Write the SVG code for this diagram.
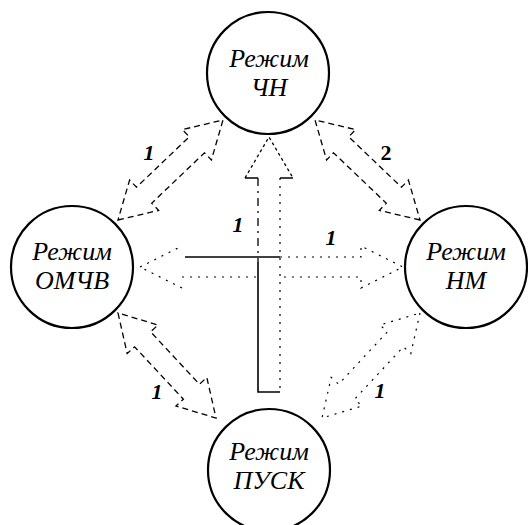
<svg xmlns="http://www.w3.org/2000/svg" width="528" height="525" viewBox="0 0 528 525">
<style>
.node{fill:#fff;stroke:#000;stroke-width:2.2}
.t{font-family:"Liberation Serif","Times New Roman",serif;font-style:italic;font-size:26px;text-anchor:middle;fill:#000}
.lbl{font-family:"Liberation Serif","Times New Roman",serif;font-style:italic;font-weight:bold;font-size:22px;text-anchor:middle;fill:#000}
.dash{fill:none;stroke:#000;stroke-width:1.3;stroke-dasharray:6 4}
.dot{fill:none;stroke:#000;stroke-width:1.2;stroke-dasharray:2 6}
.solid{fill:none;stroke:#000;stroke-width:1.6}
</style>
<rect width="528" height="525" fill="#fff"/>
<g id="connectors">
  <path class="dash" d="M118,313 L127.2,353.6 L134.6,346.8 L183.4,399.2 L176,406 L216,418 L206.8,377.4 L199.4,384.2 L150.6,331.8 L158,325 Z"/>
  <path class="dash" d="M118,220 L158.6,210.4 L151.7,203.2 L204.5,152.8 L211.4,160 L223,120 L182.4,129.6 L189.3,136.8 L136.5,187.2 L129.6,180 Z"/>
  <path class="dash" d="M420,220 L379.4,210.4 L386.3,203.2 L333.5,152.8 L326.6,160 L315,120 L355.6,129.6 L348.7,136.8 L401.5,187.2 L408.4,180 Z"/>
  <path class="dot" d="M420,313 L410.8,353.6 L403.4,346.8 L354.6,399.2 L362,406 L322,418 L331.2,377.4 L338.6,384.2 L387.4,331.8 L380,325 Z"/>
  <path class="dot" d="M140,267 L182,246 M182,288 L140,267 M182,277 H258 M280,257 H361 V246 L403,267 L361,288 V277 H280"/>
  <path class="solid" d="M185,257 H280"/>
  <path class="dash" d="M245,178 L269,137 L293,178" style="stroke-dasharray:3 3"/>
  <path class="solid" d="M245,178 H258 M280,178 H293"/>
  <path class="dash" d="M258,178 V262" style="stroke-dasharray:8 5 2 5"/>
  <path class="solid" d="M258,262 V392 H280"/>
  <path class="dot" d="M280,178 V392"/>
</g>
<g id="labels">
  <text class="lbl" x="149" y="160">1</text>
  <text class="lbl" x="386" y="160" style="font-style:normal">2</text>
  <text class="lbl" x="238" y="232">1</text>
  <text class="lbl" x="331" y="245">1</text>
  <text class="lbl" x="157" y="399">1</text>
  <text class="lbl" x="380" y="398">1</text>
</g>
<g id="node-chn">
  <circle class="node" cx="268" cy="73" r="61"/>
  <text class="t" x="269" y="67">Режим</text>
  <text class="t" x="269" y="96">ЧН</text>
</g>
<g id="node-omchv">
  <circle class="node" cx="72" cy="267" r="61"/>
  <text class="t" x="72" y="260">Режим</text>
  <text class="t" x="72" y="289">ОМЧВ</text>
</g>
<g id="node-nm">
  <circle class="node" cx="466" cy="267" r="61"/>
  <text class="t" x="466" y="260">Режим</text>
  <text class="t" x="466" y="289">НМ</text>
</g>
<g id="node-pusk">
  <circle class="node" cx="269" cy="470" r="61"/>
  <text class="t" x="269" y="460">Режим</text>
  <text class="t" x="269" y="489">ПУСК</text>
</g>
</svg>
